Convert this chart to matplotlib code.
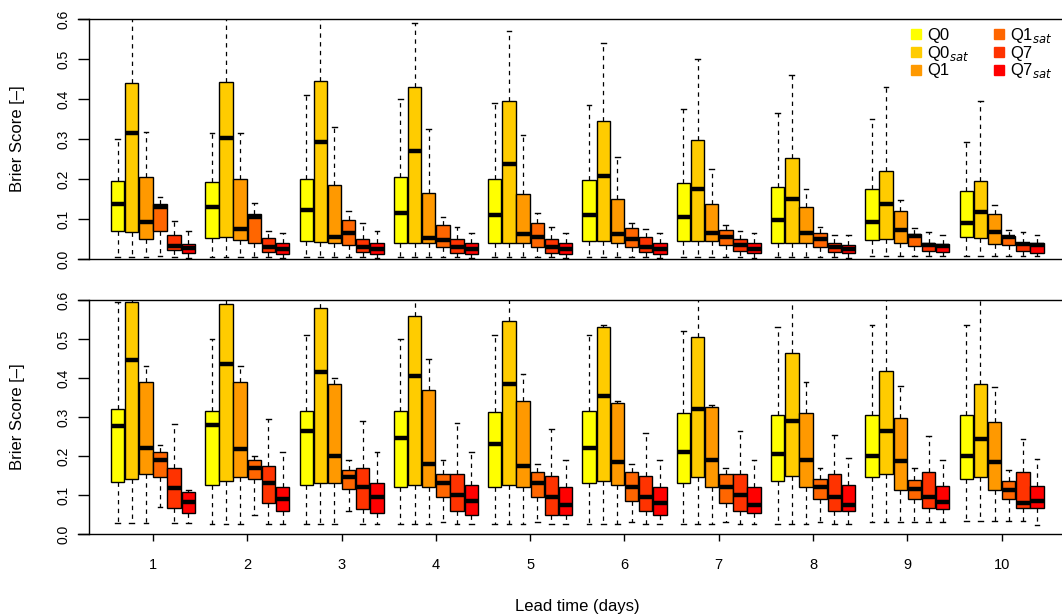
import numpy as np
import matplotlib
matplotlib.use("Agg")
import matplotlib.pyplot as plt
from matplotlib.lines import Line2D

plt.rcParams['font.family'] = ['Liberation Sans', 'DejaVu Sans']

lead_days = [1, 2, 3, 4, 5, 6, 7, 8, 9, 10]
series_names = ["Q0", "Q0$_{sat}$", "Q1", "Q1$_{sat}$", "Q7", "Q7$_{sat}$"]
series_colors = ["#FFFF00", "#FFCC00", "#FF9900", "#FF6600", "#FF3300", "#FF0000"]

# box stats per lead day: [whisker low, q1, median, q3, whisker high]
# upper panel
top_q0 = [[0.005, 0.071, 0.138, 0.196, 0.300], [0.005, 0.053, 0.130, 0.193, 0.315],
          [0.005, 0.045, 0.123, 0.200, 0.410], [0.005, 0.040, 0.115, 0.205, 0.400],
          [0.005, 0.040, 0.110, 0.200, 0.390], [0.005, 0.045, 0.110, 0.197, 0.385],
          [0.005, 0.045, 0.105, 0.190, 0.375], [0.005, 0.040, 0.097, 0.180, 0.365],
          [0.008, 0.048, 0.092, 0.175, 0.349], [0.008, 0.054, 0.089, 0.171, 0.292]]
top_q0sat = [[0.005, 0.068, 0.316, 0.439, 0.650], [0.005, 0.055, 0.302, 0.443, 0.650],
             [0.005, 0.042, 0.292, 0.445, 0.650], [0.005, 0.040, 0.270, 0.430, 0.590],
             [0.005, 0.040, 0.238, 0.395, 0.570], [0.005, 0.045, 0.208, 0.345, 0.540],
             [0.005, 0.045, 0.175, 0.297, 0.500], [0.005, 0.040, 0.150, 0.252, 0.460],
             [0.008, 0.050, 0.137, 0.221, 0.430], [0.008, 0.053, 0.117, 0.195, 0.395]]
top_q1 = [[0.005, 0.051, 0.092, 0.206, 0.317], [0.005, 0.048, 0.075, 0.200, 0.315],
          [0.005, 0.040, 0.055, 0.185, 0.330], [0.005, 0.040, 0.052, 0.165, 0.325],
          [0.005, 0.040, 0.062, 0.162, 0.310], [0.005, 0.040, 0.062, 0.150, 0.255],
          [0.005, 0.045, 0.065, 0.137, 0.225], [0.005, 0.040, 0.065, 0.130, 0.175],
          [0.008, 0.040, 0.072, 0.121, 0.148], [0.008, 0.038, 0.068, 0.112, 0.135]]
top_q1sat = [[0.008, 0.071, 0.129, 0.137, 0.154], [0.005, 0.040, 0.105, 0.112, 0.140],
             [0.005, 0.035, 0.065, 0.098, 0.120], [0.005, 0.030, 0.048, 0.085, 0.105],
             [0.005, 0.030, 0.055, 0.090, 0.115], [0.005, 0.030, 0.050, 0.078, 0.090],
             [0.005, 0.035, 0.055, 0.072, 0.085], [0.005, 0.030, 0.050, 0.065, 0.080],
             [0.008, 0.033, 0.057, 0.062, 0.078], [0.008, 0.035, 0.054, 0.058, 0.072]]
top_q7 = [[0.005, 0.022, 0.033, 0.060, 0.096], [0.005, 0.018, 0.030, 0.053, 0.070],
          [0.005, 0.018, 0.030, 0.050, 0.090], [0.005, 0.015, 0.030, 0.050, 0.080],
          [0.005, 0.015, 0.030, 0.050, 0.080], [0.005, 0.018, 0.030, 0.055, 0.075],
          [0.005, 0.020, 0.035, 0.050, 0.070], [0.005, 0.018, 0.030, 0.040, 0.060],
          [0.008, 0.020, 0.036, 0.039, 0.067], [0.008, 0.019, 0.037, 0.041, 0.067]]
top_q7sat = [[0.003, 0.014, 0.028, 0.038, 0.070], [0.003, 0.012, 0.025, 0.040, 0.065],
             [0.003, 0.012, 0.025, 0.040, 0.070], [0.003, 0.012, 0.025, 0.040, 0.065],
             [0.003, 0.012, 0.025, 0.040, 0.065], [0.003, 0.012, 0.025, 0.040, 0.065],
             [0.003, 0.015, 0.025, 0.040, 0.065], [0.003, 0.015, 0.025, 0.035, 0.060],
             [0.008, 0.018, 0.033, 0.038, 0.060], [0.008, 0.016, 0.034, 0.041, 0.060]]

# lower panel
bot_q0 = [[0.027, 0.133, 0.278, 0.321, 0.596], [0.025, 0.125, 0.280, 0.315, 0.500],
          [0.025, 0.125, 0.265, 0.315, 0.510], [0.025, 0.120, 0.245, 0.315, 0.500],
          [0.025, 0.120, 0.230, 0.313, 0.510], [0.025, 0.130, 0.220, 0.315, 0.510],
          [0.025, 0.130, 0.210, 0.310, 0.520], [0.025, 0.135, 0.205, 0.305, 0.530],
          [0.030, 0.146, 0.199, 0.304, 0.535], [0.034, 0.140, 0.199, 0.304, 0.535]]
bot_q0sat = [[0.027, 0.142, 0.447, 0.595, 0.650], [0.025, 0.135, 0.435, 0.590, 0.650],
             [0.025, 0.130, 0.415, 0.580, 0.650], [0.025, 0.125, 0.405, 0.560, 0.650],
             [0.025, 0.125, 0.385, 0.545, 0.650], [0.025, 0.135, 0.355, 0.530, 0.535],
             [0.025, 0.145, 0.320, 0.505, 0.650], [0.025, 0.150, 0.290, 0.465, 0.650],
             [0.030, 0.153, 0.264, 0.419, 0.650], [0.034, 0.146, 0.243, 0.385, 0.650]]
bot_q1 = [[0.027, 0.153, 0.221, 0.389, 0.431], [0.025, 0.145, 0.218, 0.390, 0.430],
          [0.025, 0.130, 0.200, 0.385, 0.400], [0.025, 0.120, 0.180, 0.370, 0.450],
          [0.025, 0.120, 0.175, 0.340, 0.410], [0.025, 0.125, 0.185, 0.335, 0.340],
          [0.025, 0.120, 0.190, 0.325, 0.330], [0.025, 0.120, 0.190, 0.310, 0.390],
          [0.030, 0.114, 0.187, 0.298, 0.379], [0.034, 0.114, 0.185, 0.288, 0.376]]
bot_q1sat = [[0.070, 0.146, 0.189, 0.210, 0.227], [0.050, 0.140, 0.170, 0.190, 0.200],
             [0.060, 0.115, 0.145, 0.165, 0.190], [0.030, 0.095, 0.130, 0.155, 0.190],
             [0.030, 0.095, 0.130, 0.160, 0.180], [0.030, 0.085, 0.120, 0.160, 0.180],
             [0.030, 0.080, 0.120, 0.155, 0.170], [0.030, 0.090, 0.120, 0.140, 0.170],
             [0.030, 0.089, 0.116, 0.138, 0.168], [0.034, 0.089, 0.114, 0.135, 0.163]]
bot_q7 = [[0.027, 0.067, 0.119, 0.169, 0.281], [0.025, 0.080, 0.130, 0.175, 0.295],
          [0.025, 0.065, 0.120, 0.170, 0.290], [0.025, 0.060, 0.100, 0.155, 0.285],
          [0.025, 0.050, 0.095, 0.150, 0.270], [0.025, 0.060, 0.095, 0.150, 0.260],
          [0.025, 0.060, 0.100, 0.155, 0.265], [0.025, 0.060, 0.095, 0.155, 0.255],
          [0.030, 0.066, 0.095, 0.159, 0.252], [0.034, 0.066, 0.080, 0.159, 0.243]]
bot_q7sat = [[0.027, 0.053, 0.083, 0.108, 0.112], [0.025, 0.060, 0.090, 0.120, 0.210],
             [0.025, 0.055, 0.095, 0.130, 0.210], [0.025, 0.050, 0.085, 0.125, 0.210],
             [0.025, 0.050, 0.075, 0.120, 0.190], [0.025, 0.050, 0.080, 0.120, 0.190],
             [0.025, 0.055, 0.075, 0.120, 0.190], [0.025, 0.060, 0.075, 0.125, 0.195],
             [0.030, 0.064, 0.082, 0.123, 0.191], [0.023, 0.066, 0.085, 0.123, 0.193]]

top_series = [top_q0, top_q0sat, top_q1, top_q1sat, top_q7, top_q7sat]
bot_series = [bot_q0, bot_q0sat, bot_q1, bot_q1sat, bot_q7, bot_q7sat]


def draw_panel(ax, series):
    for k, (vals, col) in enumerate(zip(series, series_colors)):
        stats = [dict(whislo=v[0], q1=v[1], med=v[2], q3=v[3], whishi=v[4]) for v in vals]
        pos = [d + (k - 2.5) * 0.15 for d in lead_days]
        bp = ax.bxp(stats, positions=pos, widths=0.142, patch_artist=True,
                    showfliers=False, capwidths=0.05, manage_ticks=False,
                    boxprops=dict(facecolor=col, edgecolor="black", linewidth=1.0),
                    whiskerprops=dict(color="black", linewidth=0.9, linestyle=(0, (3.5, 3.5))),
                    capprops=dict(color="black", linewidth=1.0),
                    medianprops=dict(color="black", linewidth=3.2, solid_capstyle="butt"))
        for b in bp["boxes"]:
            b.set_zorder(3)
        for m in bp["medians"]:
            m.set_zorder(4)

    ax.set_xlim(0.205, 10.64)
    ax.set_ylim(0, 0.6)
    ax.spines["right"].set_visible(False)
    ax.spines["left"].set_position(("axes", 11 / 984))
    ax.spines["left"].set_bounds(0, 0.6)
    for s in ["top", "bottom", "left"]:
        ax.spines[s].set_linewidth(1.0)
    ax.set_yticks([0, 0.1, 0.2, 0.3, 0.4, 0.5, 0.6])
    ax.set_yticklabels(["0.0", "0.1", "0.2", "0.3", "0.4", "0.5", "0.6"],
                       rotation=90, va="center", fontsize=10)
    ax.tick_params(axis="y", length=8, width=1.0, pad=5)
    ax.set_ylabel("Brier Score [\u2013]", fontsize=12, va="center")
    ax.yaxis.set_label_coords(-0.061, 0.5)


fig = plt.figure(figsize=(10.62, 6.16), dpi=100)
ax_top = fig.add_axes([78 / 1062, 357 / 616, 984 / 1062, 240 / 616])
ax_bot = fig.add_axes([78 / 1062, 82 / 616, 984 / 1062, 234 / 616])

draw_panel(ax_top, top_series)
draw_panel(ax_bot, bot_series)

ax_top.set_xticks([])
ax_bot.set_xticks(lead_days)
ax_bot.set_xticklabels([str(d) for d in lead_days], fontsize=10.5)
ax_bot.tick_params(axis="x", length=5, width=1.0, pad=12)
ax_bot.set_xlabel("Lead time (days)", fontsize=12, va="center")
ax_bot.xaxis.set_label_coords(0.507, -0.308)

handles = [Line2D([], [], marker="s", linestyle="none", markersize=7,
                  markerfacecolor=c, markeredgecolor=c) for c in series_colors]
ax_top.legend(handles, series_names, ncol=2, loc="upper left",
              bbox_to_anchor=(896 / 1062, 1 - 14 / 616), bbox_transform=fig.transFigure,
              frameon=False, fontsize=12, handletextpad=0.15, columnspacing=1.3,
              labelspacing=0.05, handlelength=1.0, borderpad=0.2)

fig.savefig("out.png", dpi=100)
